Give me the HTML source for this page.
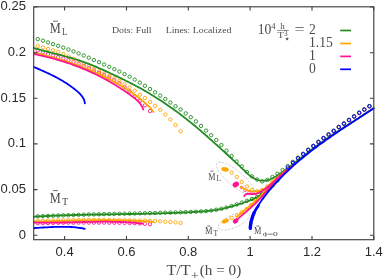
<!DOCTYPE html>
<html><head><meta charset="utf-8"><title>Plot</title>
<style>html,body{margin:0;padding:0;background:#fff}svg{display:block;will-change:transform;opacity:0.999}</style></head>
<body><svg width="383" height="278" viewBox="0 0 383 278"><g fill="none" stroke="#a8a8a8" stroke-width="0.55" stroke-dasharray="2.2,1.4"><ellipse cx="235.5" cy="178.5" rx="24" ry="7.5" transform="rotate(40 235.5 178.5)"/><ellipse cx="233.8" cy="221.2" rx="16.8" ry="6.3" transform="rotate(-24 233.8 221.2)"/></g>
<g fill="none" stroke="#FF1493" stroke-width="0.9"><circle cx="37.8" cy="50.5" r="1.7"/><circle cx="42.9" cy="52.3" r="1.7"/><circle cx="48.0" cy="54.0" r="1.7"/><circle cx="53.1" cy="55.6" r="1.7"/><circle cx="58.2" cy="57.0" r="1.7"/><circle cx="63.3" cy="58.5" r="1.7"/><circle cx="68.4" cy="60.1" r="1.7"/><circle cx="73.5" cy="61.8" r="1.7"/><circle cx="78.6" cy="63.8" r="1.7"/><circle cx="83.7" cy="65.9" r="1.7"/><circle cx="88.8" cy="68.2" r="1.7"/><circle cx="93.9" cy="70.6" r="1.7"/><circle cx="99.0" cy="72.9" r="1.7"/><circle cx="104.1" cy="75.2" r="1.7"/><circle cx="109.2" cy="77.6" r="1.7"/><circle cx="114.3" cy="80.3" r="1.7"/><circle cx="119.4" cy="83.3" r="1.7"/><circle cx="124.5" cy="87.1" r="1.7"/><circle cx="129.6" cy="91.4" r="1.7"/><circle cx="134.7" cy="96.0" r="1.7"/><circle cx="139.8" cy="100.8" r="1.7"/><circle cx="144.9" cy="105.3" r="1.7"/><circle cx="150.0" cy="111.1" r="1.7"/></g>
<g fill="none" stroke="#FF1493" stroke-width="0.9"><circle cx="37.8" cy="223.2" r="1.7"/><circle cx="42.9" cy="223.1" r="1.7"/><circle cx="48.0" cy="223.0" r="1.7"/><circle cx="53.1" cy="222.9" r="1.7"/><circle cx="58.2" cy="222.8" r="1.7"/><circle cx="63.3" cy="222.8" r="1.7"/><circle cx="68.4" cy="222.7" r="1.7"/><circle cx="73.5" cy="222.7" r="1.7"/><circle cx="78.6" cy="222.6" r="1.7"/><circle cx="83.7" cy="222.6" r="1.7"/><circle cx="88.8" cy="222.6" r="1.7"/><circle cx="93.9" cy="222.6" r="1.7"/><circle cx="99.0" cy="222.6" r="1.7"/><circle cx="104.1" cy="222.6" r="1.7"/><circle cx="109.2" cy="222.7" r="1.7"/><circle cx="114.3" cy="222.7" r="1.7"/><circle cx="119.4" cy="222.8" r="1.7"/><circle cx="124.5" cy="222.9" r="1.7"/><circle cx="129.6" cy="223.0" r="1.7"/><circle cx="134.7" cy="223.2" r="1.7"/><circle cx="139.8" cy="223.5" r="1.7"/><circle cx="144.9" cy="223.8" r="1.7"/><circle cx="150.0" cy="224.2" r="1.7"/></g>
<g fill="none" stroke="#FF1493" stroke-width="0.7"><circle cx="241.5" cy="187.5" r="1.3"/><circle cx="245.0" cy="190.5" r="1.3"/><circle cx="249.0" cy="192.3" r="1.3"/><circle cx="253.0" cy="193.2" r="1.3"/></g>
<g fill="none" stroke="#FFA500" stroke-width="0.9"><circle cx="37.8" cy="45.9" r="1.7"/><circle cx="42.9" cy="47.5" r="1.7"/><circle cx="48.0" cy="49.0" r="1.7"/><circle cx="53.1" cy="50.3" r="1.7"/><circle cx="58.2" cy="51.8" r="1.7"/><circle cx="63.3" cy="54.0" r="1.7"/><circle cx="68.4" cy="56.5" r="1.7"/><circle cx="73.5" cy="58.9" r="1.7"/><circle cx="78.6" cy="61.3" r="1.7"/><circle cx="83.7" cy="63.7" r="1.7"/><circle cx="88.8" cy="66.2" r="1.7"/><circle cx="93.9" cy="68.7" r="1.7"/><circle cx="99.0" cy="71.2" r="1.7"/><circle cx="104.1" cy="73.6" r="1.7"/><circle cx="109.2" cy="76.0" r="1.7"/><circle cx="114.3" cy="78.4" r="1.7"/><circle cx="119.4" cy="81.1" r="1.7"/><circle cx="124.5" cy="84.3" r="1.7"/><circle cx="129.6" cy="87.5" r="1.7"/><circle cx="134.7" cy="90.7" r="1.7"/><circle cx="139.8" cy="94.7" r="1.7"/><circle cx="144.9" cy="98.0" r="1.7"/><circle cx="150.0" cy="101.9" r="1.7"/><circle cx="155.1" cy="105.8" r="1.7"/><circle cx="160.2" cy="109.8" r="1.7"/><circle cx="165.3" cy="114.6" r="1.7"/><circle cx="170.4" cy="119.5" r="1.7"/><circle cx="175.5" cy="125.0" r="1.7"/><circle cx="180.6" cy="131.3" r="1.7"/></g>
<g fill="none" stroke="#FFA500" stroke-width="0.9"><circle cx="37.8" cy="220.9" r="1.7"/><circle cx="42.9" cy="220.7" r="1.7"/><circle cx="48.0" cy="220.6" r="1.7"/><circle cx="53.1" cy="220.5" r="1.7"/><circle cx="58.2" cy="220.3" r="1.7"/><circle cx="63.3" cy="220.3" r="1.7"/><circle cx="68.4" cy="220.2" r="1.7"/><circle cx="73.5" cy="220.1" r="1.7"/><circle cx="78.6" cy="220.1" r="1.7"/><circle cx="83.7" cy="220.0" r="1.7"/><circle cx="88.8" cy="220.0" r="1.7"/><circle cx="93.9" cy="220.0" r="1.7"/><circle cx="99.0" cy="220.0" r="1.7"/><circle cx="104.1" cy="220.0" r="1.7"/><circle cx="109.2" cy="220.1" r="1.7"/><circle cx="114.3" cy="220.2" r="1.7"/><circle cx="119.4" cy="220.2" r="1.7"/><circle cx="124.5" cy="220.3" r="1.7"/><circle cx="129.6" cy="220.4" r="1.7"/><circle cx="134.7" cy="220.5" r="1.7"/><circle cx="139.8" cy="220.6" r="1.7"/><circle cx="144.9" cy="220.7" r="1.7"/><circle cx="150.0" cy="220.9" r="1.7"/><circle cx="155.1" cy="221.1" r="1.7"/><circle cx="160.2" cy="221.3" r="1.7"/><circle cx="165.3" cy="221.7" r="1.7"/><circle cx="170.4" cy="222.0" r="1.7"/><circle cx="175.5" cy="222.4" r="1.7"/><circle cx="180.6" cy="222.9" r="1.7"/></g>
<g fill="none" stroke="#FFA500" stroke-width="0.9"><circle cx="231.7" cy="172.6" r="1.7"/><circle cx="236.8" cy="176.9" r="1.7"/><circle cx="241.7" cy="181.9" r="1.7"/><circle cx="247.0" cy="186.5" r="1.7"/><circle cx="251.9" cy="190.0" r="1.7"/><circle cx="257.0" cy="191.2" r="1.7"/><circle cx="262.2" cy="190.0" r="1.7"/><circle cx="267.3" cy="186.5" r="1.7"/><circle cx="272.4" cy="182.0" r="1.7"/></g>
<g fill="none" stroke="#FFA500" stroke-width="0.9"><circle cx="231.7" cy="217.9" r="1.7"/><circle cx="237.0" cy="215.2" r="1.7"/><circle cx="241.8" cy="212.2" r="1.7"/><circle cx="246.6" cy="209.1" r="1.7"/><circle cx="251.1" cy="205.2" r="1.7"/><circle cx="255.9" cy="200.2" r="1.7"/><circle cx="261.0" cy="195.1" r="1.7"/><circle cx="266.2" cy="189.6" r="1.7"/></g>
<g fill="none" stroke="#FF1493" stroke-width="0.9"><circle cx="292.9" cy="162.3" r="1.7"/><circle cx="298.0" cy="158.1" r="1.7"/><circle cx="303.1" cy="154.2" r="1.7"/><circle cx="308.2" cy="150.2" r="1.7"/><circle cx="313.3" cy="146.3" r="1.7"/><circle cx="318.4" cy="142.2" r="1.7"/><circle cx="323.5" cy="138.4" r="1.7"/><circle cx="328.6" cy="134.8" r="1.7"/><circle cx="333.7" cy="131.2" r="1.7"/><circle cx="338.8" cy="127.3" r="1.7"/><circle cx="343.9" cy="123.9" r="1.7"/><circle cx="349.0" cy="120.3" r="1.7"/><circle cx="354.1" cy="116.7" r="1.7"/><circle cx="359.2" cy="113.1" r="1.7"/><circle cx="364.3" cy="109.8" r="1.7"/><circle cx="369.4" cy="106.5" r="1.7"/></g>
<g fill="none" stroke="#228B22" stroke-width="0.9"><circle cx="37.8" cy="39.1" r="1.7"/><circle cx="42.9" cy="40.7" r="1.7"/><circle cx="48.0" cy="42.4" r="1.7"/><circle cx="53.1" cy="44.1" r="1.7"/><circle cx="58.2" cy="45.8" r="1.7"/><circle cx="63.3" cy="47.6" r="1.7"/><circle cx="68.4" cy="49.5" r="1.7"/><circle cx="73.5" cy="51.4" r="1.7"/><circle cx="78.6" cy="53.4" r="1.7"/><circle cx="83.7" cy="55.5" r="1.7"/><circle cx="88.8" cy="57.7" r="1.7"/><circle cx="93.9" cy="60.0" r="1.7"/><circle cx="99.0" cy="62.2" r="1.7"/><circle cx="104.1" cy="64.5" r="1.7"/><circle cx="109.2" cy="66.8" r="1.7"/><circle cx="114.3" cy="69.2" r="1.7"/><circle cx="119.4" cy="71.6" r="1.7"/><circle cx="124.5" cy="74.1" r="1.7"/><circle cx="129.6" cy="76.7" r="1.7"/><circle cx="134.7" cy="79.6" r="1.7"/><circle cx="139.8" cy="82.6" r="1.7"/><circle cx="144.9" cy="85.8" r="1.7"/><circle cx="150.0" cy="89.0" r="1.7"/><circle cx="155.1" cy="92.3" r="1.7"/><circle cx="160.2" cy="95.6" r="1.7"/><circle cx="165.3" cy="99.0" r="1.7"/><circle cx="170.4" cy="102.5" r="1.7"/><circle cx="175.5" cy="106.2" r="1.7"/><circle cx="180.6" cy="109.5" r="1.7"/><circle cx="185.7" cy="113.4" r="1.7"/><circle cx="190.8" cy="117.2" r="1.7"/><circle cx="195.9" cy="121.4" r="1.7"/><circle cx="201.0" cy="125.9" r="1.7"/><circle cx="206.1" cy="130.6" r="1.7"/><circle cx="211.2" cy="135.2" r="1.7"/><circle cx="216.3" cy="140.0" r="1.7"/><circle cx="221.4" cy="145.0" r="1.7"/><circle cx="226.5" cy="150.6" r="1.7"/><circle cx="231.6" cy="155.9" r="1.7"/><circle cx="236.7" cy="161.5" r="1.7"/><circle cx="241.8" cy="166.4" r="1.7"/><circle cx="246.9" cy="171.9" r="1.7"/><circle cx="252.0" cy="176.4" r="1.7"/><circle cx="257.1" cy="179.5" r="1.7"/><circle cx="262.2" cy="181.4" r="1.7"/><circle cx="267.3" cy="179.9" r="1.7"/><circle cx="272.4" cy="177.0" r="1.7"/><circle cx="277.5" cy="173.7" r="1.7"/><circle cx="282.6" cy="170.0" r="1.7"/><circle cx="287.7" cy="166.0" r="1.7"/><circle cx="292.8" cy="161.8" r="1.7"/><circle cx="297.9" cy="157.6" r="1.7"/><circle cx="303.0" cy="153.7" r="1.7"/><circle cx="308.1" cy="149.7" r="1.7"/><circle cx="313.2" cy="145.8" r="1.7"/><circle cx="318.3" cy="141.7" r="1.7"/><circle cx="323.4" cy="137.9" r="1.7"/><circle cx="328.5" cy="134.3" r="1.7"/><circle cx="333.6" cy="130.7" r="1.7"/><circle cx="338.7" cy="126.8" r="1.7"/><circle cx="343.8" cy="123.4" r="1.7"/><circle cx="348.9" cy="119.8" r="1.7"/><circle cx="354.0" cy="116.2" r="1.7"/><circle cx="359.1" cy="112.6" r="1.7"/><circle cx="364.2" cy="109.3" r="1.7"/><circle cx="369.3" cy="106.0" r="1.7"/></g>
<g fill="none" stroke="#228B22" stroke-width="0.9"><circle cx="37.8" cy="216.3" r="1.7"/><circle cx="42.9" cy="216.1" r="1.7"/><circle cx="48.0" cy="215.9" r="1.7"/><circle cx="53.1" cy="215.7" r="1.7"/><circle cx="58.2" cy="215.5" r="1.7"/><circle cx="63.3" cy="215.3" r="1.7"/><circle cx="68.4" cy="215.2" r="1.7"/><circle cx="73.5" cy="215.0" r="1.7"/><circle cx="78.6" cy="214.8" r="1.7"/><circle cx="83.7" cy="214.7" r="1.7"/><circle cx="88.8" cy="214.5" r="1.7"/><circle cx="93.9" cy="214.4" r="1.7"/><circle cx="99.0" cy="214.3" r="1.7"/><circle cx="104.1" cy="214.1" r="1.7"/><circle cx="109.2" cy="214.0" r="1.7"/><circle cx="114.3" cy="213.9" r="1.7"/><circle cx="119.4" cy="213.8" r="1.7"/><circle cx="124.5" cy="213.7" r="1.7"/><circle cx="129.6" cy="213.6" r="1.7"/><circle cx="134.7" cy="213.5" r="1.7"/><circle cx="139.8" cy="213.3" r="1.7"/><circle cx="144.9" cy="213.2" r="1.7"/><circle cx="150.0" cy="213.1" r="1.7"/><circle cx="155.1" cy="213.0" r="1.7"/><circle cx="160.2" cy="212.8" r="1.7"/><circle cx="165.3" cy="212.7" r="1.7"/><circle cx="170.4" cy="212.6" r="1.7"/><circle cx="175.5" cy="212.4" r="1.7"/><circle cx="180.6" cy="212.3" r="1.7"/><circle cx="185.7" cy="212.1" r="1.7"/><circle cx="190.8" cy="211.9" r="1.7"/><circle cx="195.9" cy="211.7" r="1.7"/><circle cx="201.0" cy="211.4" r="1.7"/><circle cx="206.1" cy="211.1" r="1.7"/><circle cx="211.2" cy="210.5" r="1.7"/><circle cx="216.3" cy="209.7" r="1.7"/><circle cx="221.4" cy="208.7" r="1.7"/><circle cx="226.5" cy="207.5" r="1.7"/><circle cx="231.6" cy="206.0" r="1.7"/><circle cx="236.7" cy="204.4" r="1.7"/><circle cx="241.8" cy="202.6" r="1.7"/><circle cx="246.9" cy="200.8" r="1.7"/><circle cx="252.0" cy="199.0" r="1.7"/><circle cx="257.1" cy="196.9" r="1.7"/><circle cx="262.2" cy="194.2" r="1.7"/><circle cx="267.3" cy="190.4" r="1.7"/><circle cx="272.4" cy="185.7" r="1.7"/><circle cx="277.5" cy="180.4" r="1.7"/></g>
<path d="M33.7,48.0 L35.1,48.4 L36.6,48.8 L38.0,49.2 L39.5,49.6 L40.9,50.0 L42.4,50.4 L43.9,50.8 L45.3,51.2 L46.8,51.5 L48.2,51.9 L49.7,52.3 L51.2,52.7 L52.6,53.0 L54.1,53.4 L55.6,53.8 L57.0,54.2 L58.5,54.5 L59.9,54.9 L61.4,55.3 L62.9,55.7 L64.3,56.1 L65.8,56.5 L67.2,56.9 L68.7,57.3 L70.1,57.7 L71.6,58.1 L73.0,58.5 L74.5,59.0 L75.9,59.4 L77.4,59.9 L78.8,60.3 L80.2,60.8 L81.7,61.3 L83.1,61.8 L84.5,62.3 L85.9,62.8 L87.3,63.3 L88.7,63.8 L90.1,64.4 L91.5,64.9 L92.9,65.5 L94.3,66.1 L95.7,66.7 L97.1,67.3 L98.5,67.9 L99.9,68.5 L101.2,69.1 L102.6,69.7 L104.0,70.3 L105.4,70.9 L106.7,71.6 L108.1,72.2 L109.5,72.9 L110.8,73.5 L112.2,74.1 L113.6,74.8 L114.9,75.4 L116.3,76.1 L117.7,76.7 L119.0,77.4 L120.4,78.0 L121.7,78.7 L123.1,79.3 L124.5,80.0 L125.8,80.7 L127.2,81.4 L128.5,82.0 L129.9,82.7 L131.2,83.4 L132.5,84.1 L133.9,84.8 L135.2,85.5 L136.5,86.2 L137.9,86.9 L139.2,87.6 L140.5,88.3 L141.8,89.1 L143.1,89.8 L144.4,90.6 L145.7,91.3 L147.0,92.1 L148.3,92.8 L149.6,93.6 L150.9,94.4 L152.2,95.2 L153.5,96.0 L154.7,96.8 L156.0,97.6 L157.3,98.4 L158.6,99.2 L159.8,100.0 L161.1,100.8 L162.3,101.6 L163.6,102.5 L164.8,103.3 L166.1,104.2 L167.3,105.0 L168.6,105.9 L169.8,106.7 L171.0,107.6 L172.3,108.5 L173.5,109.3 L174.7,110.2 L175.9,111.1 L177.2,112.0 L178.4,112.9 L179.6,113.8 L180.8,114.7 L182.0,115.6 L183.2,116.5 L184.4,117.5 L185.6,118.4 L186.8,119.3 L187.9,120.3 L189.1,121.2 L190.3,122.1 L191.5,123.1 L192.6,124.0 L193.8,125.0 L195.0,126.0 L196.1,126.9 L197.3,127.9 L198.4,128.9 L199.6,129.9 L200.7,130.8 L201.9,131.8 L203.0,132.8 L204.1,133.8 L205.3,134.8 L206.4,135.8 L207.6,136.8 L208.7,137.8 L209.8,138.8 L210.9,139.8 L212.1,140.8 L213.2,141.8 L214.3,142.8 L215.4,143.8 L216.5,144.8 L217.7,145.8 L218.8,146.9 L219.9,147.9 L221.0,148.9 L222.1,149.9 L223.2,150.9 L224.3,151.9 L225.4,152.9 L226.6,154.0 L227.7,155.0 L228.8,156.0 L229.9,157.0 L231.0,158.0 L232.1,159.0 L233.2,160.1 L234.3,161.1 L235.4,162.1 L236.5,163.1 L237.6,164.2 L238.7,165.2 L239.8,166.2 L240.9,167.3 L242.0,168.3 L243.1,169.4 L244.2,170.4 L245.3,171.5 L246.4,172.5 L247.5,173.6 L248.6,174.6 L249.8,175.5 L251.0,176.5 L252.3,177.3 L253.6,178.1 L254.9,178.8 L256.3,179.5 L257.7,180.0 L259.2,180.4 L260.6,180.6 L262.1,180.7 L263.6,180.7 L265.1,180.6 L266.6,180.4 L268.0,180.0 L269.5,179.6 L270.9,179.0 L272.2,178.4 L273.6,177.7 L274.9,177.0 L276.2,176.2 L277.5,175.3 L278.7,174.5 L280.0,173.6 L281.2,172.8 L282.5,171.9 L283.7,171.0 L284.9,170.1 L286.1,169.3 L287.4,168.4 L288.6,167.5 L289.8,166.5 L291.0,165.6 L292.2,164.7 L293.4,163.8 L294.6,162.9 L295.7,161.9 L296.9,161.0 L298.1,160.1 L299.3,159.2 L300.5,158.2 L301.7,157.3 L302.8,156.4 L304.0,155.4 L305.2,154.5 L306.4,153.6 L307.6,152.6 L308.8,151.7 L309.9,150.8 L311.1,149.9 L312.3,149.0 L313.5,148.1 L314.7,147.2 L315.9,146.3 L317.2,145.4 L318.4,144.5 L319.6,143.6 L320.8,142.7 L322.0,141.9 L323.3,141.0 L324.5,140.1 L325.8,139.3 L327.0,138.4 L328.3,137.6 L329.5,136.7 L330.8,135.9 L332.0,135.1 L333.3,134.2 L334.5,133.4 L335.8,132.6 L337.1,131.7 L338.3,130.9 L339.6,130.1 L340.9,129.3 L342.1,128.5 L343.4,127.7 L344.7,126.8 L346.0,126.0 L347.2,125.2 L348.5,124.4 L349.8,123.6 L351.1,122.8 L352.3,122.0 L353.6,121.2 L354.9,120.3 L356.2,119.5 L357.4,118.7 L358.7,117.9 L360.0,117.1 L361.2,116.3 L362.5,115.5 L363.8,114.6 L365.0,113.8 L366.3,113.0 L367.5,112.2 L368.8,111.3 L370.1,110.5 L371.3,109.7 L372.6,108.8 L373.8,108.0" fill="none" stroke="#228B22" stroke-width="1.8" stroke-linecap="round" stroke-linejoin="round" />
<path d="M33.9,216.7 L35.4,216.6 L36.9,216.5 L38.4,216.4 L39.9,216.4 L41.4,216.3 L42.9,216.2 L44.5,216.1 L46.0,216.1 L47.5,216.0 L49.0,215.9 L50.5,215.9 L52.0,215.8 L53.5,215.7 L55.0,215.7 L56.5,215.6 L58.0,215.6 L59.5,215.5 L61.0,215.4 L62.6,215.4 L64.1,215.3 L65.6,215.3 L67.1,215.2 L68.6,215.2 L70.1,215.2 L71.6,215.1 L73.1,215.1 L74.6,215.0 L76.1,215.0 L77.7,214.9 L79.2,214.9 L80.7,214.9 L82.2,214.8 L83.7,214.8 L85.2,214.8 L86.7,214.7 L88.2,214.7 L89.7,214.7 L91.2,214.6 L92.8,214.6 L94.3,214.6 L95.8,214.6 L97.3,214.5 L98.8,214.5 L100.3,214.5 L101.8,214.5 L103.3,214.4 L104.8,214.4 L106.4,214.4 L107.9,214.4 L109.4,214.3 L110.9,214.3 L112.4,214.3 L113.9,214.3 L115.4,214.2 L116.9,214.2 L118.4,214.2 L120.0,214.2 L121.5,214.1 L123.0,214.1 L124.5,214.1 L126.0,214.1 L127.5,214.0 L129.0,214.0 L130.5,214.0 L132.0,214.0 L133.6,213.9 L135.1,213.9 L136.6,213.9 L138.1,213.9 L139.6,213.8 L141.1,213.8 L142.6,213.8 L144.1,213.7 L145.6,213.7 L147.2,213.7 L148.7,213.6 L150.2,213.6 L151.7,213.6 L153.2,213.5 L154.7,213.5 L156.2,213.5 L157.7,213.4 L159.2,213.4 L160.8,213.3 L162.3,213.3 L163.8,213.2 L165.3,213.2 L166.8,213.1 L168.3,213.1 L169.8,213.0 L171.3,213.0 L172.8,212.9 L174.3,212.9 L175.8,212.8 L177.4,212.8 L178.9,212.7 L180.4,212.6 L181.9,212.6 L183.4,212.5 L184.9,212.4 L186.4,212.4 L187.9,212.3 L189.4,212.2 L190.9,212.1 L192.4,212.1 L193.9,212.0 L195.4,211.9 L196.9,211.8 L198.5,211.7 L200.0,211.6 L201.5,211.5 L203.0,211.4 L204.5,211.3 L206.0,211.2 L207.5,211.0 L209.0,210.9 L210.5,210.7 L212.0,210.5 L213.5,210.4 L214.9,210.1 L216.4,209.9 L217.9,209.7 L219.4,209.4 L220.9,209.1 L222.3,208.8 L223.8,208.4 L225.3,208.1 L226.7,207.7 L228.2,207.3 L229.7,206.9 L231.1,206.5 L232.6,206.1 L234.1,205.7 L235.5,205.3 L237.0,204.8 L238.4,204.4 L239.9,203.9 L241.4,203.5 L242.8,203.0 L244.2,202.5 L245.7,202.0 L247.1,201.4 L248.5,200.9 L249.9,200.3 L251.3,199.8 L252.7,199.2 L254.1,198.5 L255.4,197.9 L256.8,197.2 L258.1,196.5 L259.4,195.8 L260.7,195.0 L262.0,194.2 L263.2,193.4 L264.5,192.6 L265.7,191.7 L266.9,190.8 L268.1,189.9 L269.2,189.0 L270.4,188.0 L271.5,187.0 L272.6,186.0 L273.7,184.9 L274.8,183.9 L275.8,182.8 L276.9,181.7 L278.0,180.6 L279.0,179.5 L280.0,178.4 L281.0,177.2 L282.0,176.1 L283.0,175.0 L284.0,173.8" fill="none" stroke="#228B22" stroke-width="1.8" stroke-linecap="round" stroke-linejoin="round" />
<path d="M33.9,52.6 L35.4,52.9 L36.9,53.3 L38.4,53.6 L39.9,54.0 L41.3,54.3 L42.8,54.7 L44.3,55.1 L45.8,55.4 L47.3,55.8 L48.7,56.2 L50.2,56.6 L51.7,57.0 L53.2,57.4 L54.6,57.8 L56.1,58.2 L57.6,58.7 L59.0,59.1 L60.5,59.5 L61.9,60.0 L63.4,60.4 L64.8,60.9 L66.3,61.4 L67.7,61.8 L69.2,62.3 L70.6,62.8 L72.0,63.3 L73.5,63.8 L74.9,64.3 L76.3,64.8 L77.8,65.3 L79.2,65.9 L80.6,66.4 L82.0,67.0 L83.5,67.5 L84.9,68.1 L86.3,68.6 L87.7,69.2 L89.1,69.8 L90.5,70.4 L91.9,71.0 L93.3,71.6 L94.7,72.2 L96.1,72.8 L97.4,73.5 L98.8,74.1 L100.2,74.7 L101.6,75.4 L102.9,76.1 L104.3,76.7 L105.7,77.4 L107.0,78.1 L108.4,78.8 L109.7,79.5 L111.1,80.2 L112.4,81.0 L113.8,81.7 L115.1,82.4 L116.5,83.2 L117.8,84.0 L119.1,84.7 L120.4,85.5 L121.7,86.3 L123.0,87.1 L124.3,87.9 L125.6,88.7 L126.9,89.5 L128.2,90.4 L129.5,91.2 L130.7,92.1 L132.0,92.9 L133.3,93.8 L134.5,94.7 L135.7,95.6 L137.0,96.5 L138.2,97.4 L139.4,98.3 L140.6,99.2 L141.8,100.2 L143.0,101.1 L144.1,102.1 L145.3,103.0 L146.4,104.1 L147.5,105.1 L148.6,106.1 L149.6,107.2 L150.7,108.4 L151.6,109.5 L152.5,110.7 L153.4,112.0" fill="none" stroke="#FFA500" stroke-width="1.8" stroke-linecap="round" stroke-linejoin="round" />
<path d="M33.9,221.4 L35.4,221.4 L37.0,221.4 L38.5,221.3 L40.0,221.3 L41.6,221.3 L43.1,221.3 L44.6,221.2 L46.2,221.2 L47.7,221.2 L49.2,221.1 L50.8,221.1 L52.3,221.1 L53.8,221.0 L55.4,221.0 L56.9,221.0 L58.4,220.9 L60.0,220.9 L61.5,220.9 L63.0,220.8 L64.6,220.8 L66.1,220.8 L67.7,220.7 L69.2,220.7 L70.7,220.6 L72.3,220.6 L73.8,220.6 L75.3,220.5 L76.9,220.5 L78.4,220.5 L79.9,220.4 L81.5,220.4 L83.0,220.4 L84.5,220.4 L86.1,220.3 L87.6,220.3 L89.2,220.3 L90.7,220.3 L92.2,220.2 L93.8,220.2 L95.3,220.2 L96.8,220.2 L98.4,220.2 L99.9,220.2 L101.4,220.1 L103.0,220.1 L104.5,220.1 L106.1,220.1 L107.6,220.1 L109.1,220.1 L110.7,220.1 L112.2,220.2 L113.7,220.2 L115.3,220.2 L116.8,220.2 L118.3,220.2 L119.9,220.3 L121.4,220.3 L122.9,220.3 L124.5,220.4 L126.0,220.4 L127.5,220.4 L129.1,220.5 L130.6,220.5 L132.1,220.6 L133.7,220.7 L135.2,220.7 L136.7,220.8 L138.3,220.9 L139.8,221.0 L141.3,221.0 L142.9,221.1 L144.4,221.2 L145.9,221.3 L147.5,221.4 L149.0,221.5 L150.5,221.7 L152.1,221.8 L153.6,221.9" fill="none" stroke="#FFA500" stroke-width="1.8" stroke-linecap="round" stroke-linejoin="round" />
<path d="M240.6,186.8 L242.0,187.7 L243.4,188.5 L244.8,189.2 L246.3,189.8 L247.8,190.3 L249.4,190.7 L250.9,191.1 L252.5,191.3 L254.0,191.4 L255.6,191.4 L257.1,191.3 L258.7,191.0 L260.2,190.7 L261.6,190.2 L263.0,189.6 L264.4,188.9 L265.7,188.0 L266.9,187.0 L268.2,186.0 L269.4,184.9 L270.5,183.7 L271.7,182.6 L272.8,181.4 L274.0,180.3 L275.2,179.2 L276.4,178.2 L277.6,177.2 L278.8,176.2 L280.1,175.3 L281.3,174.3 L282.5,173.3 L283.8,172.3 L285.0,171.3" fill="none" stroke="#FFA500" stroke-width="1.8" stroke-linecap="round" stroke-linejoin="round" />
<path d="M236.4,216.9 L237.6,215.9 L238.9,215.0 L240.1,214.0 L241.3,213.0 L242.5,212.1 L243.7,211.1 L244.9,210.1 L246.1,209.1 L247.3,208.1 L248.5,207.1 L249.7,206.0 L250.9,205.0 L252.0,204.0 L253.2,203.0 L254.4,201.9 L255.5,200.9 L256.7,199.8 L257.8,198.7 L258.9,197.7 L260.1,196.6 L261.2,195.5 L262.3,194.4 L263.4,193.3 L264.5,192.2 L265.6,191.1 L266.7,190.0 L267.7,188.8 L268.8,187.7 L269.8,186.6 L270.9,185.4 L271.9,184.2 L273.0,183.1 L274.0,181.9 L275.0,180.7 L276.0,179.5" fill="none" stroke="#FFA500" stroke-width="1.8" stroke-linecap="round" stroke-linejoin="round" />
<g fill="#FFA500"><ellipse cx="225" cy="169.4" rx="3.8" ry="2.2" transform="rotate(8 225 169.4)"/><ellipse cx="225.2" cy="221.1" rx="3.7" ry="2.1" transform="rotate(-22 225.2 221.1)"/></g>
<path d="M33.9,54.0 L35.4,54.3 L36.9,54.6 L38.4,55.0 L39.9,55.3 L41.4,55.6 L42.9,56.0 L44.4,56.3 L45.9,56.7 L47.3,57.1 L48.8,57.4 L50.3,57.8 L51.8,58.2 L53.3,58.6 L54.7,59.0 L56.2,59.4 L57.7,59.9 L59.2,60.3 L60.6,60.7 L62.1,61.2 L63.5,61.6 L65.0,62.1 L66.4,62.6 L67.9,63.1 L69.3,63.5 L70.8,64.0 L72.2,64.5 L73.7,65.1 L75.1,65.6 L76.5,66.1 L78.0,66.7 L79.4,67.2 L80.8,67.8 L82.2,68.3 L83.6,68.9 L85.0,69.5 L86.4,70.1 L87.8,70.7 L89.2,71.3 L90.6,71.9 L92.0,72.6 L93.4,73.2 L94.8,73.8 L96.2,74.5 L97.5,75.2 L98.9,75.9 L100.3,76.5 L101.6,77.2 L103.0,78.0 L104.3,78.7 L105.7,79.4 L107.0,80.1 L108.4,80.9 L109.7,81.7 L111.0,82.4 L112.3,83.2 L113.6,84.0 L115.0,84.8 L116.3,85.6 L117.6,86.4 L118.9,87.2 L120.1,88.1 L121.4,88.9 L122.7,89.8 L124.0,90.6 L125.3,91.5 L126.5,92.3 L127.8,93.2 L129.0,94.1 L130.3,95.0 L131.5,95.9 L132.8,96.8 L134.0,97.7 L135.2,98.6 L136.3,99.6 L137.4,100.6 L138.5,101.7 L139.5,102.8 L140.4,104.0 L141.2,105.2 L142.0,106.6 L142.7,108.0 L143.2,109.5" fill="none" stroke="#FF1493" stroke-width="1.8" stroke-linecap="round" stroke-linejoin="round" />
<path d="M33.9,222.6 L35.4,222.6 L37.0,222.7 L38.5,222.7 L40.0,222.7 L41.6,222.7 L43.1,222.7 L44.6,222.7 L46.1,222.8 L47.7,222.7 L49.2,222.7 L50.7,222.7 L52.3,222.7 L53.8,222.7 L55.3,222.7 L56.9,222.7 L58.4,222.6 L60.0,222.6 L61.5,222.6 L63.0,222.5 L64.6,222.5 L66.1,222.5 L67.6,222.4 L69.2,222.4 L70.7,222.4 L72.2,222.3 L73.8,222.3 L75.3,222.2 L76.8,222.2 L78.4,222.2 L79.9,222.1 L81.5,222.1 L83.0,222.0 L84.5,222.0 L86.1,222.0 L87.6,221.9 L89.1,221.9 L90.7,221.9 L92.2,221.8 L93.7,221.8 L95.3,221.8 L96.8,221.8 L98.4,221.8 L99.9,221.7 L101.4,221.7 L103.0,221.7 L104.5,221.7 L106.0,221.7 L107.6,221.7 L109.1,221.7 L110.6,221.8 L112.2,221.8 L113.7,221.8 L115.2,221.8 L116.8,221.9 L118.3,221.9 L119.8,222.0 L121.4,222.0 L122.9,222.1 L124.4,222.1 L126.0,222.2 L127.5,222.3 L129.0,222.4 L130.6,222.5 L132.1,222.6 L133.6,222.7 L135.2,222.8 L136.7,223.0 L138.2,223.1 L139.7,223.3 L141.3,223.4 L142.8,223.6" fill="none" stroke="#FF1493" stroke-width="1.8" stroke-linecap="round" stroke-linejoin="round" />
<path d="M244.2,196.0 L245.2,194.7 L246.5,194.1 L247.9,193.8 L249.5,193.8 L251.2,194.0 L252.8,194.1 L254.4,194.0 L256.0,193.8 L257.4,193.4 L258.9,192.8 L260.2,192.1 L261.6,191.3 L262.9,190.4 L264.2,189.5 L265.4,188.6 L266.7,187.7 L267.9,186.7 L269.2,185.7 L270.4,184.7 L271.6,183.7 L272.8,182.6 L274.0,181.6 L275.1,180.6 L276.3,179.5 L277.5,178.4 L278.7,177.4 L279.8,176.3 L281.0,175.3 L282.2,174.2 L283.4,173.2 L284.6,172.1 L285.8,171.1 L287.0,170.1 L288.2,169.1 L289.5,168.2 L290.7,167.2 L292.0,166.3" fill="none" stroke="#FF1493" stroke-width="1.8" stroke-linecap="round" stroke-linejoin="round" />
<path d="M235.5,221.0 L236.7,220.0 L237.8,218.9 L239.0,217.9 L240.1,216.9 L241.3,215.9 L242.5,214.9 L243.7,213.9 L244.8,212.9 L246.0,211.9 L247.2,210.9 L248.3,209.8 L249.5,208.8 L250.6,207.8 L251.8,206.7 L252.9,205.7 L254.0,204.7 L255.2,203.6 L256.3,202.5 L257.4,201.4 L258.4,200.3 L259.5,199.2 L260.6,198.1 L261.6,196.9 L262.6,195.8 L263.6,194.6 L264.6,193.4 L265.6,192.2 L266.5,191.0 L267.5,189.8 L268.5,188.6 L269.4,187.3 L270.4,186.1 L271.4,184.9 L272.4,183.8 L273.4,182.6 L274.4,181.4 L275.5,180.3 L276.5,179.2 L277.6,178.1 L278.8,177.1 L279.9,176.0 L281.1,175.0 L282.3,174.1 L283.5,173.1 L284.8,172.1 L286.0,171.2 L287.2,170.2 L288.4,169.3 L289.6,168.3 L290.8,167.3 L292.0,166.3" fill="none" stroke="#FF1493" stroke-width="1.8" stroke-linecap="round" stroke-linejoin="round" />
<g fill="#FF1493"><ellipse cx="235.8" cy="184.5" rx="3.3" ry="2.7" transform="rotate(-30 235.8 184.5)"/><ellipse cx="235.6" cy="220.9" rx="3.0" ry="2.3" transform="rotate(-40 235.6 220.9)"/></g>
<g fill="none" stroke="#0000FF" stroke-width="0.9"><circle cx="287.9" cy="167.4" r="1.7"/><circle cx="293.0" cy="162.9" r="1.7"/><circle cx="298.1" cy="158.4" r="1.7"/><circle cx="303.2" cy="154.2" r="1.7"/><circle cx="308.3" cy="149.9" r="1.7"/><circle cx="313.4" cy="146.0" r="1.7"/><circle cx="318.5" cy="141.9" r="1.7"/><circle cx="323.6" cy="138.1" r="1.7"/><circle cx="328.7" cy="134.5" r="1.7"/><circle cx="333.8" cy="130.9" r="1.7"/><circle cx="338.9" cy="127.0" r="1.7"/><circle cx="344.0" cy="123.6" r="1.7"/><circle cx="349.1" cy="120.0" r="1.7"/><circle cx="354.2" cy="116.4" r="1.7"/><circle cx="359.3" cy="112.8" r="1.7"/><circle cx="364.4" cy="109.5" r="1.7"/><circle cx="369.5" cy="106.2" r="1.7"/></g>
<path d="M33.9,67.0 L35.3,67.6 L36.7,68.2 L38.1,68.8 L39.5,69.4 L40.8,70.0 L42.2,70.6 L43.6,71.2 L45.0,71.9 L46.4,72.5 L47.8,73.2 L49.2,73.8 L50.6,74.5 L52.0,75.2 L53.4,75.9 L54.8,76.6 L56.2,77.3 L57.5,78.1 L58.9,78.8 L60.2,79.6 L61.6,80.3 L62.9,81.1 L64.2,81.9 L65.6,82.8 L66.9,83.6 L68.1,84.4 L69.4,85.3 L70.7,86.2 L71.9,87.1 L73.1,88.0 L74.4,89.0 L75.5,89.9 L76.7,90.9 L77.9,91.9 L79.0,92.9 L80.1,94.0 L81.1,95.1 L82.0,96.3 L82.8,97.5 L83.6,98.8 L84.2,100.2 L84.6,101.7 L84.9,103.3" fill="none" stroke="#0000FF" stroke-width="1.8" stroke-linecap="round" stroke-linejoin="round" />
<path d="M33.9,228.1 L35.4,228.0 L37.0,227.9 L38.5,227.8 L40.0,227.7 L41.6,227.6 L43.1,227.5 L44.7,227.4 L46.2,227.3 L47.8,227.3 L49.3,227.2 L50.9,227.1 L52.4,227.0 L54.0,226.9 L55.5,226.9 L57.1,226.8 L58.6,226.8 L60.2,226.8 L61.7,226.8 L63.3,226.8 L64.8,226.8 L66.4,226.8 L67.9,226.9 L69.5,226.9 L71.0,227.0 L72.6,227.1 L74.1,227.2 L75.6,227.4 L77.2,227.6 L78.7,227.8 L80.2,228.0 L81.8,228.2 L83.3,228.5 L84.8,228.8" fill="none" stroke="#0000FF" stroke-width="1.8" stroke-linecap="round" stroke-linejoin="round" />
<path d="M250.2,228.5 L250.2,226.9 L250.2,225.3 L250.4,223.8 L250.6,222.3 L250.9,220.8 L251.3,219.3 L251.8,217.9 L252.3,216.5 L252.9,215.1 L253.5,213.8 L254.1,212.4 L254.8,211.1 L255.6,209.8 L256.4,208.5 L257.2,207.2 L258.0,205.9 L258.8,204.6 L259.6,203.3 L260.5,202.1 L261.4,200.8 L262.2,199.6 L263.1,198.4 L264.0,197.1 L265.0,195.9 L265.9,194.7 L266.8,193.5 L267.8,192.3 L268.7,191.1 L269.7,190.0 L270.7,188.8 L271.7,187.6 L272.7,186.5 L273.7,185.3 L274.7,184.2 L275.8,183.0 L276.8,181.9 L277.8,180.8 L278.9,179.7 L280.0,178.6 L281.0,177.5 L282.1,176.4 L283.2,175.3 L284.3,174.2 L285.4,173.2 L286.5,172.1 L287.6,171.1 L288.7,170.0 L289.8,169.0 L290.9,168.0 L292.0,166.9 L293.2,165.9 L294.3,164.9 L295.4,163.9 L296.6,162.9 L297.7,161.9 L298.9,160.9 L300.1,159.9 L301.2,159.0 L302.4,158.0 L303.6,157.0 L304.8,156.1 L305.9,155.1 L307.1,154.2 L308.3,153.2 L309.5,152.3 L310.7,151.4 L311.9,150.4 L313.1,149.5 L314.3,148.6 L315.6,147.7 L316.8,146.8 L318.0,145.8 L319.2,144.9 L320.4,144.0 L321.7,143.2 L322.9,142.3 L324.2,141.4 L325.4,140.5 L326.6,139.6 L327.9,138.7 L329.1,137.9 L330.4,137.0 L331.6,136.1 L332.9,135.3 L334.1,134.4 L335.4,133.5 L336.7,132.7 L337.9,131.8 L339.2,131.0 L340.4,130.1 L341.7,129.3 L343.0,128.4 L344.2,127.6 L345.5,126.7 L346.8,125.9 L348.1,125.1 L349.3,124.2 L350.6,123.4 L351.9,122.5 L353.2,121.7 L354.4,120.9 L355.7,120.0 L357.0,119.2 L358.3,118.4 L359.6,117.5 L360.8,116.7 L362.1,115.9 L363.4,115.1 L364.7,114.2 L365.9,113.4 L367.2,112.6 L368.5,111.7 L369.8,110.9 L371.1,110.1 L372.3,109.2 L373.6,108.4" fill="none" stroke="#0000FF" stroke-width="1.8" stroke-linecap="round" stroke-linejoin="round" />
<path d="M250.3,228.3 L250.4,226.5 L250.6,224.8 L250.9,223.1 L251.2,221.3 L251.7,219.6 L252.2,217.9 L252.7,216.3 L253.3,214.6 L254.0,213.0" fill="none" stroke="#0000FF" stroke-width="3.4" stroke-linecap="round" stroke-linejoin="round" />
<path d="M254.0,213.0 L254.6,211.9 L255.2,210.7 L255.8,209.6 L256.5,208.5 L257.2,207.4 L257.9,206.4 L258.6,205.3" fill="none" stroke="#0000FF" stroke-width="2.7" stroke-linecap="round" stroke-linejoin="round" /><path d="M340.2,30.5 h10.8" stroke="#228B22" stroke-width="1.7" fill="none"/>
<path d="M340.2,43.5 h10.8" stroke="#FFA500" stroke-width="1.7" fill="none"/>
<path d="M340.2,56.4 h10.8" stroke="#FF1493" stroke-width="1.7" fill="none"/>
<path d="M340.2,69.3 h10.8" stroke="#0000FF" stroke-width="1.7" fill="none"/><rect x="33.7" y="6.8" width="340.1" height="232.9" fill="none" stroke="#404040" stroke-width="1.15"/>
<path d="M64.6,239.7 v-3.8 M64.6,6.8 v3.8 M126.5,239.7 v-3.8 M126.5,6.8 v3.8 M188.3,239.7 v-3.8 M188.3,6.8 v3.8 M250.1,239.7 v-3.8 M250.1,6.8 v3.8 M312.0,239.7 v-3.8 M312.0,6.8 v3.8 M373.8,239.7 v-3.8 M373.8,6.8 v3.8 M33.7,235.2 h3.8 M373.8,235.2 h-3.8 M33.7,189.6 h3.8 M373.8,189.6 h-3.8 M33.7,143.9 h3.8 M373.8,143.9 h-3.8 M33.7,98.3 h3.8 M373.8,98.3 h-3.8 M33.7,52.7 h3.8 M373.8,52.7 h-3.8 M33.7,7.0 h3.8 M373.8,7.0 h-3.8" stroke="#404040" stroke-width="1.1" fill="none"/><g font-family="'Liberation Sans',sans-serif" font-size="13" fill="#2a2a2a">
<text x="64.6" y="256.4" text-anchor="middle">0.4</text>
<text x="126.5" y="256.4" text-anchor="middle">0.6</text>
<text x="188.3" y="256.4" text-anchor="middle">0.8</text>
<text x="250.1" y="256.4" text-anchor="middle">1</text>
<text x="312.0" y="256.4" text-anchor="middle">1.2</text>
<text x="373.8" y="256.4" text-anchor="middle">1.4</text>
<text x="25.9" y="238.7" text-anchor="end">0</text>
<text x="25.9" y="193.1" text-anchor="end">0.05</text>
<text x="25.9" y="147.4" text-anchor="end">0.1</text>
<text x="25.9" y="101.8" text-anchor="end">0.15</text>
<text x="25.9" y="56.2" text-anchor="end">0.2</text>
<text x="25.9" y="9.8" text-anchor="end">0.25</text>
</g>
<g font-family="'Liberation Serif',serif" fill="#4a4a4a">
<text x="166.5" y="275" font-size="14" textLength="24.2" lengthAdjust="spacingAndGlyphs">T/T</text>
<text x="191.0" y="279.6" font-size="11.5" textLength="7.8" lengthAdjust="spacingAndGlyphs">+</text>
<text x="199.7" y="275" font-size="14" textLength="41.6" lengthAdjust="spacingAndGlyphs">(h = 0)</text>
<text x="49.7" y="33.2" font-size="14" textLength="11" lengthAdjust="spacingAndGlyphs">M</text><text x="61.9" y="35.0" font-size="9.8" textLength="5.2" lengthAdjust="spacingAndGlyphs">L</text><path d="M53.0,21.2 h4.9" stroke="#4a4a4a" stroke-width="0.8"/>
<text x="49.7" y="202.6" font-size="14" textLength="11" lengthAdjust="spacingAndGlyphs">M</text><text x="61.9" y="204.7" font-size="9.8" textLength="6.2" lengthAdjust="spacingAndGlyphs">T</text><path d="M53.0,190.6 h4.9" stroke="#4a4a4a" stroke-width="0.8"/>
<text x="208.2" y="179.5" font-size="9.6" textLength="7.2" lengthAdjust="spacingAndGlyphs">M</text><text x="216.6" y="180.6" font-size="7.4">L</text><path d="M210.5,171.2 h2.9" stroke="#4a4a4a" stroke-width="0.8"/>
<text x="204.9" y="233.7" font-size="9.6" textLength="7.5" lengthAdjust="spacingAndGlyphs">M</text><text x="213.6" y="235.8" font-size="7.4">T</text><path d="M207.2,226.0 h3.2" stroke="#4a4a4a" stroke-width="0.8"/>
<text x="254.1" y="233.6" font-size="9.6" textLength="7.4" lengthAdjust="spacingAndGlyphs">M</text><text x="262.7" y="235.9" font-size="6.9" textLength="15.2" lengthAdjust="spacingAndGlyphs">ϕ=0</text><path d="M256.4,226.1 h3.2" stroke="#4a4a4a" stroke-width="0.8"/>
<text x="111.9" y="32.7" font-size="8.6" textLength="39.7" lengthAdjust="spacingAndGlyphs">Dots: Full</text>
<text x="165.8" y="32.9" font-size="8.6" textLength="65.6" lengthAdjust="spacingAndGlyphs">Lines: Localized</text>
<text x="257.7" y="33.6" font-size="13.6">10</text>
<text x="271.2" y="28.7" font-size="8.6">4</text>
<text x="280.2" y="29.0" font-size="9">h</text>
<path d="M277.0,30.4 h11.9" stroke="#4a4a4a" stroke-width="0.6"/>
<text x="277.4" y="38.3" font-size="9.2" textLength="6.5" lengthAdjust="spacingAndGlyphs">T</text>
<text x="283.9" y="35.6" font-size="7.2">3</text>
<text x="286.5" y="41.6" font-size="9.5" text-anchor="middle">⋆</text>
<text x="294.6" y="33.6" font-size="13.6" textLength="10" lengthAdjust="spacingAndGlyphs">=</text>
<text x="309" y="33.5" font-size="13.6">2</text>
<text x="309" y="46.9" font-size="13.6">1.15</text>
<text x="309" y="59.9" font-size="13.6">1</text>
<text x="309" y="72.9" font-size="13.6">0</text>
</g></svg></body></html>
